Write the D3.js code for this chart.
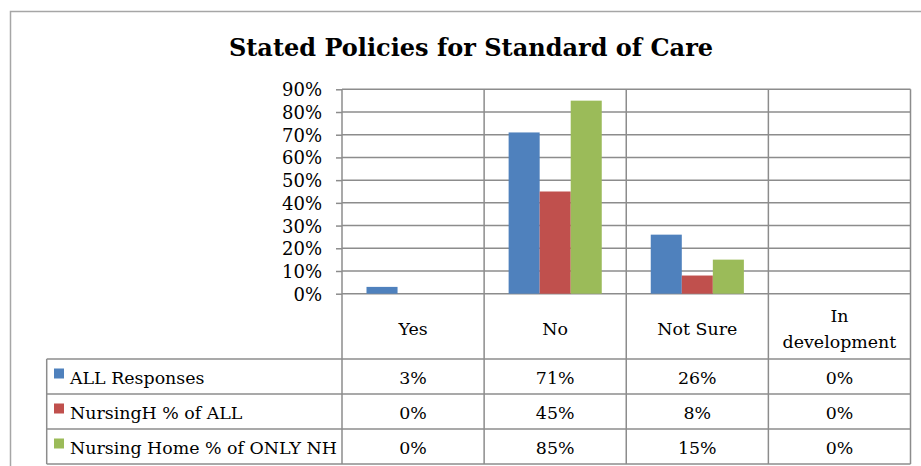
<!DOCTYPE html>
<html>
<head>
<meta charset="utf-8">
<script src="https://cdn.jsdelivr.net/npm/d3@7"></script>
<style>
  html, body { margin: 0; padding: 0; background: #fff; }
  svg { display: block; }
  text { font-family: "DejaVu Serif", "Liberation Serif", serif; fill: #000; }
</style>
</head>
<body>
<svg id="chart" width="921" height="466"></svg>
<script>
// Survey answers and the three response series
const categories = ["Yes", "No", "Not Sure", "In development"];
const categoryLines = [["Yes"], ["No"], ["Not Sure"], ["In", "development"]];
const seriesNames = ["ALL Responses", "NursingH % of ALL", "Nursing Home % of ONLY NH"];
const allResponses = [0.03, 0.71, 0.26, 0.00];
const nursingOfAll = [0.00, 0.45, 0.08, 0.00];
const nursingOnlyNH = [0.00, 0.85, 0.15, 0.00];
const seriesColors = ["#4F81BD", "#C0504D", "#9BBB59"];
const yTicks = [0, 0.1, 0.2, 0.3, 0.4, 0.5, 0.6, 0.7, 0.8, 0.9];
const title = "Stated Policies for Standard of Care";

const seriesValues = [allResponses, nursingOfAll, nursingOnlyNH];

const svg = d3.select("#chart");
const gridColor = "#8c8c8c";
const labelSize = "17.4px";

// chart frame
svg.append("rect")
  .attr("x", 10.5).attr("y", 11.5)
  .attr("width", 930).attr("height", 470)
  .attr("fill", "none").attr("stroke", "#a6a6a6").attr("stroke-width", 1.5);

// title
svg.append("text")
  .attr("x", 471).attr("y", 56)
  .attr("text-anchor", "middle")
  .style("font-size", "24px").style("font-weight", "bold")
  .text(title);

const plotLeft = 342, plotRight = 910.5, plotTop = 89.3, plotBottom = 293.7;
const tableLeft = 46.7, tableTop = 359, rowH = 35;

const x0 = d3.scaleBand().domain(categories).range([plotLeft, plotRight]);
const x1 = d3.scaleBand().domain(seriesNames).range([24.5, x0.bandwidth() - 24.5]);
const y = d3.scaleLinear().domain([0, 0.9]).range([plotBottom, plotTop]);

// horizontal gridlines
svg.append("g").selectAll("line").data(yTicks).join("line")
  .attr("x1", plotLeft).attr("x2", plotRight)
  .attr("y1", d => y(d)).attr("y2", d => y(d))
  .attr("stroke", gridColor).attr("stroke-width", 1.5);

// y axis
const yAxis = svg.append("g")
  .attr("transform", `translate(${plotLeft},0)`)
  .call(d3.axisLeft(y).tickValues(yTicks).tickFormat(d3.format(".0%")).tickSize(6).tickPadding(14));
yAxis.select(".domain").remove();
yAxis.selectAll(".tick line").attr("stroke", gridColor).attr("stroke-width", 1.5);
yAxis.selectAll(".tick text").style("font-size", "18px").attr("dy", "0.36em").attr("fill", "#000");

// bars
const groups = svg.append("g").selectAll("g").data(categories).join("g")
  .attr("transform", d => `translate(${x0(d)},0)`);
groups.selectAll("rect")
  .data((c, i) => seriesNames.map((s, k) => ({ s, k, v: seriesValues[k][i] })))
  .join("rect")
  .attr("x", d => x1(d.s))
  .attr("width", x1.bandwidth())
  .attr("y", d => y(d.v))
  .attr("height", d => plotBottom - y(d.v))
  .attr("fill", d => seriesColors[d.k]);

// table: vertical rules through the plot and the table
const tableBottom = tableTop + rowH * seriesNames.length;
const vx = [plotLeft, ...categories.map(c => x0(c) + x0.bandwidth())];
svg.append("g").selectAll("line").data(vx).join("line")
  .attr("x1", d => d).attr("x2", d => d)
  .attr("y1", plotTop).attr("y2", tableBottom)
  .attr("stroke", gridColor).attr("stroke-width", 1.5);
svg.append("line")
  .attr("x1", tableLeft).attr("x2", tableLeft)
  .attr("y1", tableTop).attr("y2", tableBottom)
  .attr("stroke", gridColor).attr("stroke-width", 1.5);

// table: horizontal rules
const hy = d3.range(seriesNames.length + 1).map(i => tableTop + i * rowH);
svg.append("g").selectAll("line").data(hy).join("line")
  .attr("x1", tableLeft).attr("x2", plotRight)
  .attr("y1", d => d).attr("y2", d => d)
  .attr("stroke", gridColor).attr("stroke-width", 1.5);

// category labels
const catMid = (plotBottom + tableTop) / 2 + 2.5;
categories.forEach((c, i) => {
  const lines = categoryLines[i];
  const t = svg.append("text")
    .attr("x", x0(c) + x0.bandwidth() / 2)
    .attr("text-anchor", "middle")
    .style("font-size", labelSize);
  lines.forEach((ln, j) => {
    t.append("tspan")
      .attr("x", x0(c) + x0.bandwidth() / 2)
      .attr("y", catMid + (j - (lines.length - 1) / 2) * 26)
      .attr("dy", "0.36em")
      .text(ln);
  });
});

// series rows: legend key, name and values
const fmt = d3.format(".0%");
seriesNames.forEach((s, k) => {
  const cy = tableTop + k * rowH + rowH / 2;
  svg.append("rect")
    .attr("x", 54).attr("y", cy - 8)
    .attr("width", 10).attr("height", 10)
    .attr("fill", seriesColors[k]);
  svg.append("text")
    .attr("x", 70).attr("y", cy + 1).attr("dy", "0.36em")
    .style("font-size", labelSize)
    .text(s);
  categories.forEach((c, i) => {
    svg.append("text")
      .attr("x", x0(c) + x0.bandwidth() / 2).attr("y", cy + 1).attr("dy", "0.36em")
      .attr("text-anchor", "middle")
      .style("font-size", labelSize)
      .text(fmt(seriesValues[k][i]));
  });
});
</script>
</body>
</html>
